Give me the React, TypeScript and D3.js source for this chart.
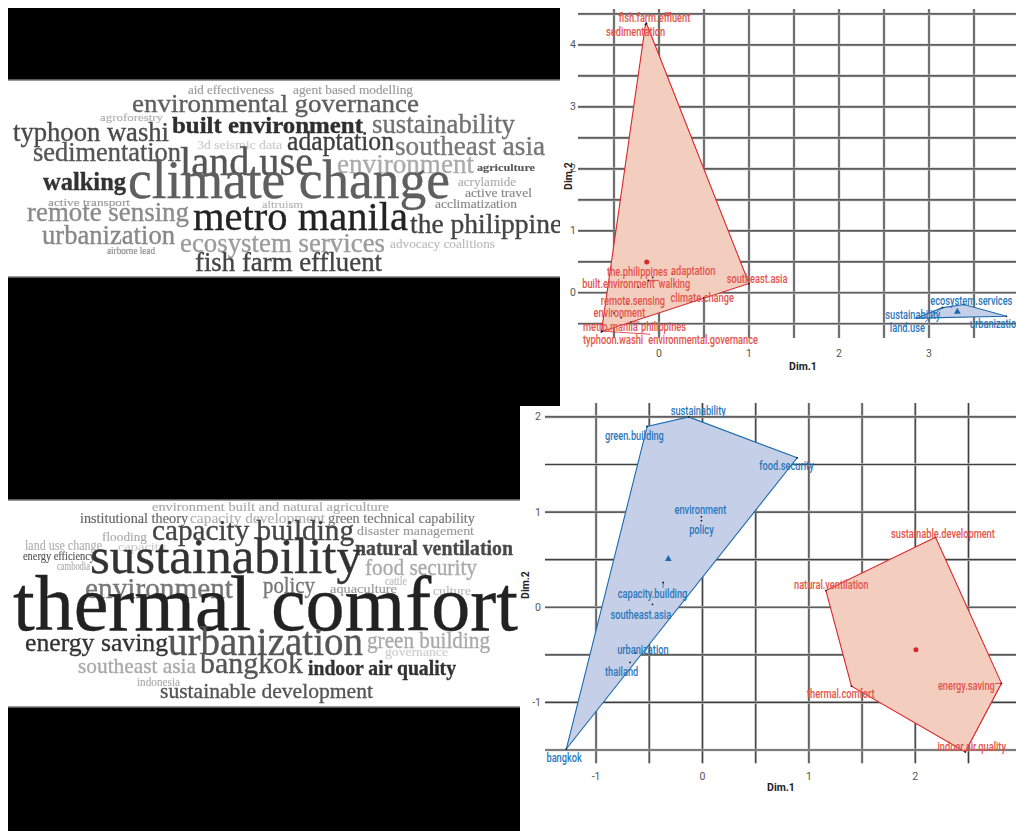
import * as d3 from 'd3'

// ---------- word cloud 1 (top) ----------
const cloud1Words = [
  'aid effectiveness', 'agent based modelling', 'environmental governance', 'agroforestry',
  'built environment', 'sustainability', 'typhoon washi', '3d seismic data', 'adaptation',
  'southeast asia', 'sedimentation', 'land use', 'environment', 'agriculture', 'walking',
  'climate change', 'acrylamide', 'active travel', 'active transport', 'altruism',
  'acclimatization', 'remote sensing', 'metro manila', 'the philippines', 'urbanization',
  'ecosystem services', 'advocacy coalitions', 'airborne lead', 'fish farm effluent',
]
// layout of the rendered cloud: [left x, baseline y, width]
const cloud1Layout: [number, number, number][] = [
  [188, 94, 86], [293, 94, 120], [132, 112, 287], [100, 121, 63],
  [172, 133, 191], [372, 133, 143], [13, 141, 156], [197, 149, 85], [287, 150, 107],
  [395, 155, 150], [33, 161, 148], [180, 175, 133], [337, 173, 137], [477, 171, 58], [43, 190, 83],
  [128, 198, 322], [458, 186, 58], [465, 197, 67], [48, 206, 82], [262, 208, 41],
  [435, 208, 82], [27, 221, 162], [193, 230, 215], [410, 233, 163], [42, 244, 133],
  [180, 252, 205], [390, 248, 105], [107, 254, 48], [195, 271, 187],
]
const cloud1Size = [12, 12, 26, 11, 24, 27, 28, 12, 27, 27, 27, 40, 27, 11, 26, 54, 12, 12, 11, 11, 12, 27, 41, 28, 27, 27, 12, 10, 27]
const cloud1Shade = [
  '#9a9a9a', '#9a9a9a', '#5e5e5e', '#b0b0b0', '#2e2e2e', '#707070', '#4a4a4a', '#cacaca', '#3e3e3e',
  '#777777', '#555555', '#555555', '#ababab', '#5a5a5a', '#333333', '#5e5e5e', '#adadad', '#888888',
  '#999999', '#b5b5b5', '#888888', '#8a8a8a', '#222222', '#444444', '#888888', '#9c9c9c', '#bbbbbb',
  '#888888', '#444444',
]
const cloud1Bold = ['built environment', 'agriculture', 'walking']

// ---------- word cloud 2 (bottom) ----------
const cloud2Words = [
  'environment built and natural agriculture', 'institutional theory', 'capacity development',
  'green technical capability', 'flooding', 'capacity building', 'disaster management',
  'land use change', 'capacity', 'energy efficiency', 'natural ventilation', 'cambodia',
  'sustainability', 'food security', 'cattle', 'environment', 'policy', 'aquaculture', 'culture',
  'thermal comfort', 'energy saving', 'urbanization', 'green building', 'governance',
  'southeast asia', 'bangkok', 'indoor air quality', 'indonesia', 'sustainable development',
]
const cloud2Layout: [number, number, number][] = [
  [152, 511, 237], [80, 523, 108], [190, 523, 135],
  [328, 523, 147], [102, 541, 45], [152, 540, 202], [357, 535, 117],
  [25, 550, 77], [118, 551, 48], [23, 560, 72], [355, 555, 158], [57, 570, 33],
  [90, 573, 272], [365, 575, 112], [385, 585, 22], [85, 598, 148], [263, 593, 52], [330, 593, 67], [433, 595, 38],
  [13, 630, 505], [25, 651, 143], [168, 655, 195], [367, 648, 123], [385, 656, 63],
  [78, 673, 118], [200, 673, 103], [308, 675, 148], [137, 686, 43], [160, 698, 213],
]
const cloud2Size = [13, 14, 14, 14, 13, 29, 13, 14, 13, 13, 22, 12, 51, 23, 12, 29, 24, 13, 13, 78, 26, 39, 24, 12, 22, 30, 22, 12, 22]
const cloud2Shade = [
  '#a8a8a8', '#666666', '#b0b0b0', '#777777', '#aaaaaa', '#444444', '#999999',
  '#b0b0b0', '#cccccc', '#555555', '#4a4a4a', '#aaaaaa',
  '#333333', '#aaaaaa', '#bbbbbb', '#777777', '#777777', '#999999', '#bbbbbb',
  '#222222', '#333333', '#555555', '#aaaaaa', '#cccccc',
  '#aaaaaa', '#555555', '#333333', '#aaaaaa', '#555555',
]
const cloud2Bold = ['natural ventilation', 'indoor air quality']

// ---------- cluster plot 1 (top right) ----------
const topNames = [
  'fish.farm.effluent', 'sedimentation', 'the.philippines', 'adaptation', 'built.environment',
  'walking', 'southeast.asia', 'climate.change', 'remote.sensing', 'environment', 'metro.manila',
  'philippines', 'typhoon.washi', 'environmental.governance',
  'sustainability', 'land.use', 'ecosystem.services', 'urbanization',
]
const topDim1 = [-0.14, -0.15, -0.07, 0.15, -0.23, -0.12, 1.0, 0.5, -0.35, -0.5, -0.42, -0.31, -0.64, -0.63, 2.86, 3.15, 3.39, 3.86]
const topDim2 = [4.35, 4.33, 0.25, 0.3, 0.09, 0.2, 0.15, -0.08, -0.18, -0.33, -0.4, -0.47, -0.63, -0.62, -0.41, -0.24, -0.19, -0.38]
const topCluster = [1, 1, 1, 1, 1, 1, 1, 1, 1, 1, 1, 1, 1, 1, 2, 2, 2, 2]
const topLabDim1 = [-0.05, -0.26, -0.24, 0.38, -0.45, 0.17, 1.09, 0.48, -0.29, -0.44, -0.54, 0.05, -0.51, 0.49, 2.82, 2.76, 3.47, 3.74]
const topLabDim2 = [4.44, 4.22, 0.35, 0.37, 0.16, 0.16, 0.24, -0.07, -0.12, -0.31, -0.54, -0.54, -0.75, -0.75, -0.34, -0.55, -0.12, -0.5]

// ---------- cluster plot 2 (bottom right) ----------
const botNames = [
  'sustainability', 'green.building', 'food.security', 'environment', 'policy',
  'capacity.building', 'southeast.asia', 'urbanization', 'thailand', 'bangkok',
  'sustainable.development', 'natural.ventilation', 'thermal.comfort', 'energy.saving', 'indoor.air.quality',
]
const botDim1 = [-0.13, -0.52, 0.89, -0.01, -0.01, -0.37, -0.47, -0.63, -0.68, -1.28, 2.19, 1.16, 1.4, 2.81, 2.47]
const botDim2 = [2.0, 1.9, 1.57, 0.95, 0.91, 0.26, 0.03, -0.48, -0.58, -1.49, 0.735, 0.175, -0.83, -0.8, -1.52]
const botCluster = [2, 2, 2, 2, 2, 2, 2, 2, 2, 2, 1, 1, 1, 1, 1]
const botLabDim1 = [-0.04, -0.64, 0.79, -0.02, -0.01, -0.47, -0.58, -0.56, -0.76, -1.3, 2.26, 1.21, 1.3, 2.48, 2.53]
const botLabDim2 = [2.07, 1.81, 1.49, 1.03, 0.82, 0.15, -0.07, -0.44, -0.67, -1.58, 0.78, 0.24, -0.9, -0.82, -1.46]

const CLUSTER_STYLE: Record<number, { text: string; stroke: string; fill: string }> = {
  1: { text: '#E3544B', stroke: '#D8282E', fill: '#F3CEBF' },
  2: { text: '#2A78BD', stroke: '#1C6BB0', fill: '#C5CFE7' },
}

const LABEL_FONT = 'Roboto, "DejaVu Sans", sans-serif'

interface PlotSpec {
  names: string[]
  d1: number[]
  d2: number[]
  cl: number[]
  l1: number[]
  l2: number[]
  xDomain: [number, number]
  xRange: [number, number]
  yDomain: [number, number]
  yRange: [number, number]
  gridX: number[]
  gridY: number[]
  xTicks: number[]
  yTicks: number[]
  xTickY: number
  yTickX: number
  dim1At: [number, number]
  dim2At: [number, number]
}

function ClusterPlot({ p }: { p: PlotSpec }) {
  const x = d3.scaleLinear().domain(p.xDomain).range(p.xRange)
  const y = d3.scaleLinear().domain(p.yDomain).range(p.yRange)
  const [left, right] = p.xRange
  const [bottom, top] = p.yRange

  const clusters = Array.from(new Set(p.cl))
  const tri = d3.symbol(d3.symbolTriangle).size(20)()

  return (
    <g>
      {/* grid */}
      <g>
        {p.gridX.map(v => (
          <g key={'gx' + v}>
            <line x1={x(v)} x2={x(v)} y1={top} y2={bottom} stroke="#bdbdbd" strokeWidth={2.6} />
            <line x1={x(v)} x2={x(v)} y1={top} y2={bottom} stroke="#3f3f3f" strokeWidth={1.2} />
          </g>
        ))}
        {p.gridY.map(v => (
          <g key={'gy' + v}>
            <line x1={left} x2={right} y1={y(v)} y2={y(v)} stroke="#bdbdbd" strokeWidth={2.6} />
            <line x1={left} x2={right} y1={y(v)} y2={y(v)} stroke="#3f3f3f" strokeWidth={1.2} />
          </g>
        ))}
      </g>

      {/* hulls */}
      {clusters.map(c => {
        const pts: [number, number][] = p.names
          .map((_, i) => [x(p.d1[i]), y(p.d2[i])] as [number, number])
          .filter((_, i) => p.cl[i] === c)
        const hull = d3.polygonHull(pts)
        if (!hull) return null
        const st = CLUSTER_STYLE[c]
        return <path key={'h' + c} d={'M' + hull.join('L') + 'Z'} fill={st.fill} stroke={st.stroke} strokeWidth={1.1} />
      })}

      {/* segments */}
      {p.names.map((n, i) => {
        const px = x(p.d1[i]), py = y(p.d2[i])
        const lx = x(p.l1[i]), ly = y(p.l2[i])
        const hw = n.length * 2.2, hh = 5
        const ex = Math.max(lx - hw, Math.min(lx + hw, px))
        const ey = Math.max(ly - hh, Math.min(ly + hh, py))
        if (Math.hypot(ex - px, ey - py) < 5) return null
        return <line key={'s' + i} x1={px} y1={py} x2={ex} y2={ey} stroke={CLUSTER_STYLE[p.cl[i]].stroke} strokeWidth={0.8} />
      })}

      {/* points */}
      {p.names.map((n, i) => (
        <circle key={'p' + n + i} cx={x(p.d1[i])} cy={y(p.d2[i])} r={0.9} fill="#1a1a1a" />
      ))}

      {/* cluster centres */}
      {clusters.map(c => {
        const idx = p.cl.map((v, i) => (v === c ? i : -1)).filter(i => i >= 0)
        const cx = x(d3.mean(idx, i => p.d1[i]) as number)
        const cy = y(d3.mean(idx, i => p.d2[i]) as number)
        const st = CLUSTER_STYLE[c]
        return c === 1
          ? <circle key={'c' + c} cx={cx} cy={cy} r={2.5} fill={st.stroke} />
          : <path key={'c' + c} d={tri as string} transform={`translate(${cx},${cy})`} fill={st.stroke} />
      })}

      {/* labels */}
      {p.names.map((n, i) => (
        <text key={'l' + i} transform={`translate(${x(p.l1[i])},${y(p.l2[i])}) scale(0.68,1)`}
          textAnchor="middle" dominantBaseline="central" fontFamily={LABEL_FONT} fontSize={13.6}
          fontWeight={500} fill={CLUSTER_STYLE[p.cl[i]].text}>{n}</text>
      ))}

      {/* axes text */}
      {p.xTicks.map(v => (
        <text key={'xt' + v} x={x(v)} y={p.xTickY} textAnchor="middle" dominantBaseline="central"
          fontFamily={LABEL_FONT} fontSize={10.5} fill="#555">{v < 0 ? '-' + Math.abs(v) : v}</text>
      ))}
      {p.yTicks.map(v => (
        <text key={'yt' + v} x={p.yTickX} y={y(v)} textAnchor="end" dominantBaseline="central"
          fontFamily={LABEL_FONT} fontSize={10.5} fill="#555">{v < 0 ? '-' + Math.abs(v) : v}</text>
      ))}
      <text x={p.dim1At[0]} y={p.dim1At[1]} textAnchor="middle" dominantBaseline="central"
        fontFamily={LABEL_FONT} fontWeight="bold" fontSize={10.5} fill="#222">Dim.1</text>
      <text transform={`translate(${p.dim2At[0]},${p.dim2At[1]}) rotate(-90)`} textAnchor="middle"
        dominantBaseline="central" fontFamily={LABEL_FONT} fontWeight="bold" fontSize={10.5} fill="#222">Dim.2</text>
    </g>
  )
}

function WordCloud({ words, layout, size, shade, bold }: {
  words: string[]; layout: [number, number, number][]; size: number[]; shade: string[]; bold: string[]
}) {
  return (
    <g filter="url(#soft)">
      {words.map((w, i) => (
        <text key={w + i} x={layout[i][0]} y={layout[i][1]} fontSize={size[i]} fill={shade[i]}
          stroke={shade[i]} strokeWidth={size[i] > 20 ? 0.35 : 0.15}
          fontFamily='"Liberation Serif", "Times New Roman", serif'
          fontWeight={bold.includes(w) ? 'bold' : 'normal'}
          textLength={layout[i][2]} lengthAdjust="spacingAndGlyphs">{w}</text>
      ))}
    </g>
  )
}

const topPlot: PlotSpec = {
  names: topNames, d1: topDim1, d2: topDim2, cl: topCluster, l1: topLabDim1, l2: topLabDim2,
  xDomain: [-0.9, 4.1], xRange: [578, 1028], yDomain: [-0.73, 4.58], yRange: [338, 9],
  gridX: d3.range(-0.5, 4.01, 0.5), gridY: d3.range(-0.5, 4.51, 0.5),
  xTicks: [0, 1, 2, 3], yTicks: [0, 1, 2, 3, 4], xTickY: 353, yTickX: 576,
  dim1At: [803, 366], dim2At: [568, 176],
}

const botPlot: PlotSpec = {
  names: botNames, d1: botDim1, d2: botDim2, cl: botCluster, l1: botLabDim1, l2: botLabDim2,
  xDomain: [-1.48, 3.0], xRange: [545, 1021.7], yDomain: [-1.64, 2.146], yRange: [763.3, 403],
  gridX: d3.range(-1, 2.51, 0.5), gridY: d3.range(-1.5, 2.01, 0.5),
  xTicks: [-1, 0, 1, 2], yTicks: [-1, 0, 1, 2], xTickY: 776, yTickX: 541,
  dim1At: [781, 787], dim2At: [525, 585],
}

export default function App() {
  return (
    <svg width={1016} height={831} style={{ position: 'absolute', left: 0, top: 0, display: 'block' }}>
      <defs>
        <filter id="soft" x="-5%" y="-20%" width="110%" height="140%">
          <feGaussianBlur stdDeviation={0.65} />
        </filter>
        <clipPath id="clip1"><rect x={8} y={80} width={552} height={197} /></clipPath>
        <clipPath id="clip2"><rect x={8} y={500} width={512} height={207} /></clipPath>
        <clipPath id="clipRight"><rect x={0} y={0} width={1016} height={831} /></clipPath>
      </defs>
      <rect width={1016} height={831} fill="#fff" />

      {/* black backdrops */}
      <rect x={8} y={8} width={552} height={398} fill="#000" />
      <rect x={8} y={406} width={512} height={425} fill="#000" />

      {/* word cloud panels */}
      <rect x={8} y={80} width={552} height={197} fill="#fff" />
      <line x1={8} x2={560} y1={80} y2={80} stroke="#777" strokeWidth={1.5} />
      <line x1={8} x2={560} y1={277} y2={277} stroke="#777" strokeWidth={1.5} />
      <g clipPath="url(#clip1)">
        <WordCloud words={cloud1Words} layout={cloud1Layout} size={cloud1Size} shade={cloud1Shade} bold={cloud1Bold} />
      </g>

      <rect x={8} y={500} width={512} height={207} fill="#fff" />
      <line x1={8} x2={520} y1={500} y2={500} stroke="#777" strokeWidth={1.5} />
      <line x1={8} x2={520} y1={707} y2={707} stroke="#777" strokeWidth={1.5} />
      <g clipPath="url(#clip2)">
        <WordCloud words={cloud2Words} layout={cloud2Layout} size={cloud2Size} shade={cloud2Shade} bold={cloud2Bold} />
      </g>

      {/* cluster plots */}
      <g clipPath="url(#clipRight)">
        <ClusterPlot p={topPlot} />
        <ClusterPlot p={botPlot} />
      </g>
    </svg>
  )
}
